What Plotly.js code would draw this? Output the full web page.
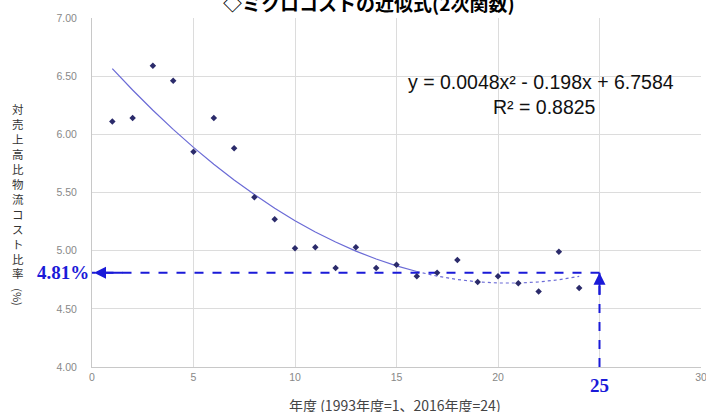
<!DOCTYPE html>
<html>
<head>
<meta charset="utf-8">
<script src="https://cdn.plot.ly/plotly-3.0.1.min.js"></script>
<style>html,body{margin:0;padding:0;background:#fff;}#chart{width:706px;height:412px;}</style>
</head>
<body>
<div id="chart"></div>
<script>
// ---- data ----
const years = [1,2,3,4,5,6,7,8,9,10,11,12,13,14,15,16,17,18,19,20,21,22,23,24];
const costRatio = [6.11,6.14,6.59,6.46,5.85,6.14,5.88,5.46,5.27,5.02,5.03,4.85,5.03,4.85,4.88,4.78,4.81,4.92,4.73,4.78,4.72,4.65,4.99,4.68];
const trendYearsA = [1,2,3,4,5,6,7,8,9,10,11,12,13,14,15,16];
const trendValsA = [6.565,6.381,6.207,6.043,5.888,5.743,5.607,5.482,5.365,5.258,5.161,5.074,4.996,4.928,4.869,4.821];
const trendYearsB = [16,17,18,19,20,21,22,23,24];
const trendValsB = [4.821,4.781,4.752,4.732,4.722,4.722,4.731,4.750,4.779];
const projYear = 25;
const projValue = 4.81;
const yTicks = [4.0,4.5,5.0,5.5,6.0,6.5,7.0];
const xTicks = [0,5,10,15,20,25,30];
const xTickText = ["0","5","10","15","20","","30"];
const titleText = "◇ミクロコストの近似式(2次関数)";
const eqText = "y = 0.0048x² - 0.198x + 6.7584";
const r2Text = "R² = 0.8825";
const yTitleChars = ["対","売","上","高","比","物","流","コ","ス","ト","比","率"];
const yTitleUnit = "(%)";
const xTitleText = "年度 (1993年度=1、2016年度=24)";

const blue = "#1a1ad8";
const traces = [
  {x: trendYearsA, y: trendValsA, mode: "lines", line: {color: "#6b6bd6", width: 1.2}, hoverinfo: "skip"},
  {x: trendYearsB, y: trendValsB, mode: "lines", line: {color: "#6b6bd6", width: 1.2, dash: "dot"}, hoverinfo: "skip"},
  {x: [projYear, 0], y: [projValue, projValue], mode: "lines", line: {color: blue, width: 2, dash: "dash"}, cliponaxis: false},
  {x: [projYear, projYear], y: [yTicks[0], projValue], mode: "lines", line: {color: blue, width: 2, dash: "dash"}, cliponaxis: false},
  {x: years, y: costRatio, mode: "markers", marker: {symbol: "diamond", size: 5, color: "#2b2b6b"}}
];

const annotations = [
  {xref: "paper", yref: "paper", x: 0.455, y: 1.0, yshift: 16, text: "<b>" + titleText + "</b>", showarrow: false,
   font: {family: "Noto Sans CJK JP", size: 19, color: "#000"}, xanchor: "center", yanchor: "middle"},
  {xref: "x", yref: "y", x: 22.1, y: 6.45, text: eqText, showarrow: false, font: {family: "Liberation Sans", size: 19.5, color: "#111"}},
  {xref: "x", yref: "y", x: 22.3, y: 6.235, text: r2Text, showarrow: false, font: {family: "Liberation Sans", size: 19.5, color: "#111"}},
  {xref: "x", yref: "y", x: 0.1, y: projValue, ax: 1.6, ay: projValue, axref: "x", ayref: "y", text: "", showarrow: true,
   arrowhead: 2, arrowsize: 1.2, arrowwidth: 2, arrowcolor: blue},
  {xref: "x", yref: "y", x: projYear, y: projValue, ax: projYear, ay: projValue - 0.2, axref: "x", ayref: "y", text: "", showarrow: true,
   arrowhead: 2, arrowsize: 1.2, arrowwidth: 2, arrowcolor: blue},
  {xref: "x", yref: "y", x: 0, y: projValue, xshift: -1, text: "<b>" + projValue.toFixed(2) + "%</b>", showarrow: false,
   xanchor: "right", yanchor: "middle", font: {family: "Liberation Serif", size: 19, color: blue}},
  {xref: "x", yref: "paper", x: projYear, y: 0, yshift: -18, text: "<b>" + projYear + "</b>", showarrow: false,
   xanchor: "center", yanchor: "middle", font: {family: "Liberation Serif", size: 19, color: blue}},
  {xref: "paper", yref: "paper", x: 0, xshift: -74, y: 0.505, text: yTitleChars.join("<br>"), showarrow: false,
   xanchor: "center", yanchor: "middle", font: {family: "Noto Sans CJK JP", size: 11.5, color: "#333"}},
  {xref: "paper", yref: "paper", x: 0, xshift: -74, y: 0.2, text: yTitleUnit, textangle: 90, showarrow: false,
   xanchor: "center", yanchor: "middle", font: {family: "Noto Sans CJK JP", size: 11, color: "#333"}},
  {xref: "paper", yref: "paper", x: 0.497, y: 0, yshift: -38, text: xTitleText, showarrow: false,
   xanchor: "center", yanchor: "middle", font: {family: "Noto Sans CJK JP", size: 14, color: "#444"}}
];

const layout = {
  width: 706, height: 412,
  margin: {l: 92, r: 5, t: 18, b: 45},
  paper_bgcolor: "#fff", plot_bgcolor: "#fff",
  showlegend: false,
  xaxis: {range: [0, 30], tickvals: xTicks, ticktext: xTickText, showgrid: true, gridcolor: "#dcdcdc", gridwidth: 1,
          zeroline: false, showline: true, linecolor: "#c8c8c8", linewidth: 1, ticks: "", ticklabeloverflow: "allow",
          tickfont: {family: "Liberation Sans", size: 10.5, color: "#888"}, fixedrange: true},
  yaxis: {range: [4.0, 7.0], tickvals: yTicks, tickformat: ".2f", showgrid: true, gridcolor: "#dcdcdc", gridwidth: 1,
          zeroline: false, showline: true, linecolor: "#c8c8c8", linewidth: 1, ticks: "", ticklabelstandoff: 12,
          tickfont: {family: "Liberation Sans", size: 10.5, color: "#888"}, fixedrange: true},
  annotations: annotations
};

Plotly.newPlot("chart", traces, layout, {displayModeBar: false, staticPlot: true});
</script>
</body>
</html>
